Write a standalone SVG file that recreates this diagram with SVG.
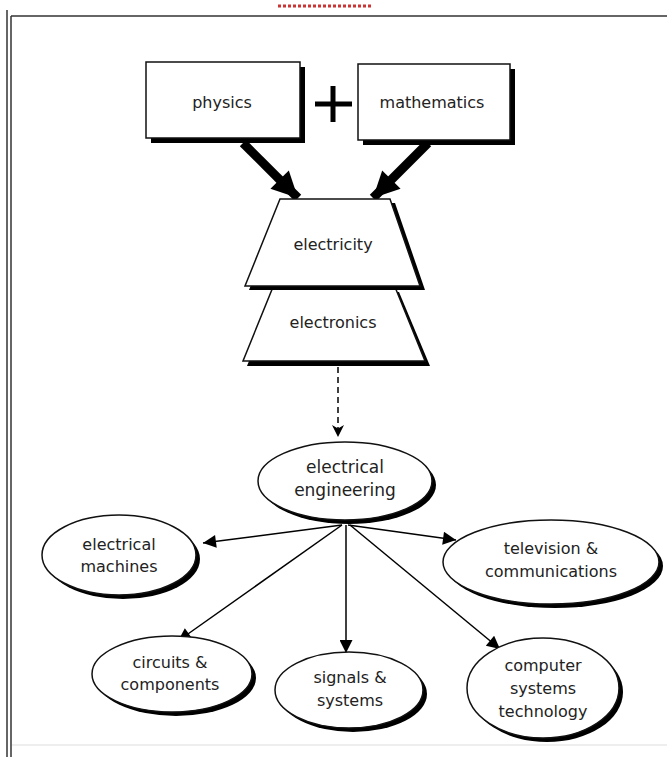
<svg xmlns="http://www.w3.org/2000/svg" width="667" height="757" viewBox="0 0 667 757">
<defs>
<style>
.t{font-family:"DejaVu Sans","Liberation Sans",sans-serif;font-size:16px;fill:#222;text-anchor:middle}
.big{font-size:17px}
.box{fill:#fff;stroke:#111;stroke-width:1.5}
.sh{fill:#000}
.con{stroke:#000;stroke-width:1.5;fill:none}
.fat{stroke:#000;stroke-width:9;fill:none}
.frame{stroke:#333;stroke-width:1.5;fill:none}
</style>
<marker id="ah" viewBox="0 0 10 10" refX="10" refY="5" markerUnits="userSpaceOnUse" markerWidth="20" markerHeight="13" orient="auto">
<path d="M0,0 L10,5 L0,10 Z" fill="#000"/>
</marker>
<marker id="big" viewBox="0 0 10 10" refX="10" refY="5" markerUnits="userSpaceOnUse" markerWidth="28" markerHeight="26" orient="auto">
<path d="M0,0 L10,5 L0,10 Z" fill="#000"/>
</marker>
<marker id="dah" viewBox="0 0 10 10" refX="10" refY="5" markerUnits="userSpaceOnUse" markerWidth="26" markerHeight="12" orient="auto">
<path d="M0,0 L10,5 L0,10 L3,5 Z" fill="#000"/>
</marker>
</defs>
<rect width="667" height="757" fill="#fff"/>
<g id="frame">
<line class="frame" x1="7" y1="10" x2="7" y2="757"/>
<line class="frame" x1="11" y1="16" x2="11" y2="757"/>
<line class="frame" x1="11" y1="16" x2="667" y2="16"/>
<line x1="12" y1="745" x2="667" y2="745" stroke="#ddd" stroke-width="1"/>
<line x1="278" y1="6" x2="372" y2="6" stroke="#c33" stroke-width="3" stroke-dasharray="3 2"/>
</g>
<g id="connectors">
<line class="fat" x1="243" y1="143" x2="298" y2="198" marker-end="url(#big)"/>
<line class="fat" x1="428" y1="143" x2="373" y2="198" marker-end="url(#big)"/>
<line class="con" x1="338" y1="367" x2="338" y2="437" stroke-dasharray="6 4" marker-end="url(#dah)"/>
<line class="con" x1="342" y1="525" x2="203" y2="543" marker-end="url(#ah)"/>
<line class="con" x1="348" y1="525" x2="456" y2="540" marker-end="url(#ah)"/>
<line class="con" x1="342" y1="525" x2="178" y2="641" marker-end="url(#ah)"/>
<line class="con" x1="346" y1="525" x2="346" y2="653" marker-end="url(#ah)"/>
<line class="con" x1="350" y1="525" x2="500" y2="649" marker-end="url(#ah)"/>
</g>
<g id="plus">
<line x1="315" y1="104" x2="352" y2="104" stroke="#000" stroke-width="5"/>
<line x1="333" y1="86" x2="333" y2="122" stroke="#000" stroke-width="5"/>
</g>
<g id="physics">
<rect class="sh" x="151" y="67" width="154" height="76"/>
<rect class="box" x="146" y="62" width="154" height="76"/>
<text class="t" x="222" y="108">physics</text>
</g>
<g id="mathematics">
<rect class="sh" x="363" y="69" width="152" height="76"/>
<rect class="box" x="358" y="64" width="152" height="76"/>
<text class="t" x="432" y="108">mathematics</text>
</g>
<g id="electronics">
<polygon class="sh" points="277,292 399,292 430,366 247,366"/>
<polygon class="box" points="273,287 395,287 425,361 243,361"/>
<text class="t" x="333" y="328">electronics</text>
</g>
<g id="electricity">
<polygon class="sh" points="284,203 395,203 425,290 249,290"/>
<polygon class="box" points="280,199 390,199 420,286 245,286"/>
<text class="t" x="333" y="250">electricity</text>
</g>
<g id="electrical-engineering">
<ellipse class="sh" cx="349" cy="485" rx="87" ry="39"/>
<ellipse class="box" cx="345" cy="481" rx="87" ry="39"/>
<text class="t big" x="345" y="473">electrical</text>
<text class="t big" x="345" y="496">engineering</text>
</g>
<g id="electrical-machines">
<ellipse class="sh" cx="123" cy="559" rx="77" ry="40"/>
<ellipse class="box" cx="119" cy="555" rx="77" ry="40"/>
<text class="t" x="119" y="550">electrical</text>
<text class="t" x="119" y="572">machines</text>
</g>
<g id="television">
<ellipse class="sh" cx="555" cy="566" rx="108" ry="42"/>
<ellipse class="box" cx="551" cy="562" rx="108" ry="42"/>
<text class="t" x="551" y="554">television  &amp;</text>
<text class="t" x="551" y="577">communications</text>
</g>
<g id="circuits">
<ellipse class="sh" cx="176" cy="678" rx="80" ry="38"/>
<ellipse class="box" cx="172" cy="674" rx="80" ry="38"/>
<text class="t" x="170" y="668">circuits  &amp;</text>
<text class="t" x="170" y="690">components</text>
</g>
<g id="signals">
<ellipse class="sh" cx="353" cy="694" rx="74" ry="38"/>
<ellipse class="box" cx="349" cy="690" rx="74" ry="38"/>
<text class="t" x="350" y="683">signals  &amp;</text>
<text class="t" x="350" y="706">systems</text>
</g>
<g id="computer">
<ellipse class="sh" cx="547" cy="692" rx="76" ry="50"/>
<ellipse class="box" cx="543" cy="688" rx="76" ry="50"/>
<text class="t" x="543" y="671">computer</text>
<text class="t" x="543" y="694">systems</text>
<text class="t" x="543" y="717">technology</text>
</g>
</svg>
